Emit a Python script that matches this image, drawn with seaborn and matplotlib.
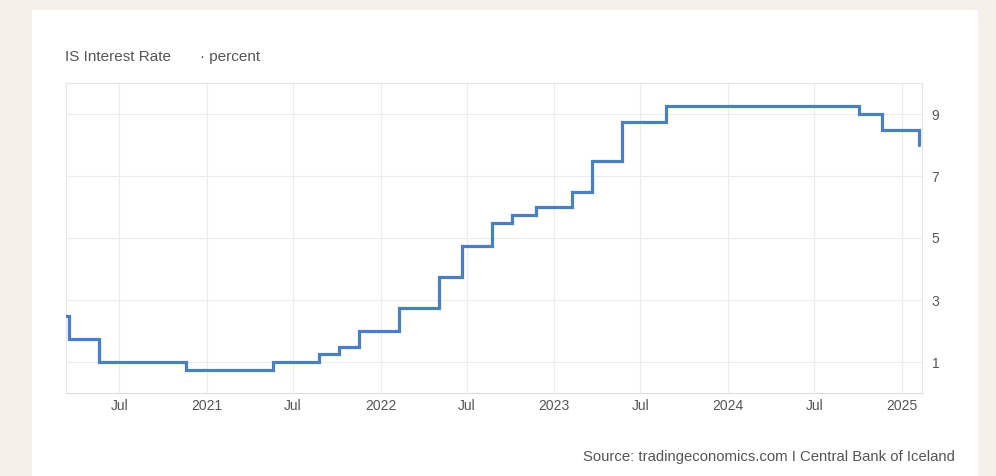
import matplotlib
matplotlib.use("Agg")
import matplotlib.pyplot as plt
from matplotlib.patches import Rectangle
import pandas as pd
import seaborn as sns

# Central Bank of Iceland policy rate decisions (percent)
change_dates = [
    "2020-03-11", "2020-03-18", "2020-05-20", "2020-11-18", "2021-05-19",
    "2021-08-25", "2021-10-06", "2021-11-17", "2022-02-09", "2022-05-04",
    "2022-06-22", "2022-08-24", "2022-10-05", "2022-11-23", "2023-02-08",
    "2023-03-22", "2023-05-24", "2023-08-23", "2024-10-02", "2024-11-20",
    "2025-02-05",
]
rates = [
    2.50, 1.75, 1.00, 0.75, 1.00,
    1.25, 1.50, 2.00, 2.75, 3.75,
    4.75, 5.50, 5.75, 6.00, 6.50,
    7.50, 8.75, 9.25, 9.00, 8.50,
    8.00,
]

tick_dates = ["2020-07-01", "2021-01-01", "2021-07-01", "2022-01-01", "2022-07-01",
              "2023-01-01", "2023-07-01", "2024-01-01", "2024-07-01", "2025-01-01"]
tick_labels = ["Jul", "2021", "Jul", "2022", "Jul", "2023", "Jul", "2024", "Jul", "2025"]
y_ticks = [1, 3, 5, 7, 9]

df = pd.DataFrame({"date": pd.to_datetime(change_dates), "rate": rates})

sns.set_theme(style="white")
plt.rcParams["font.family"] = ["Liberation Sans", "DejaVu Sans"]

BG = "#f5f1ea"
TEXT = "#555555"
GRID = "#ececec"
LINE = "#4a7fc1"

fig = plt.figure(figsize=(9.96, 4.76), dpi=100, facecolor=BG)
fig.patches.append(Rectangle((32 / 996, 0), (978 - 32) / 996, (476 - 10) / 476,
                             transform=fig.transFigure, facecolor="white",
                             edgecolor="none", zorder=-5))
ax = fig.add_axes([66 / 996, 1 - 393 / 476, (922 - 66) / 996, (393 - 83) / 476])
ax.set_zorder(2)
ax.set_facecolor("white")

sns.lineplot(data=df, x="date", y="rate", ax=ax, color=LINE, linewidth=2.3,
             drawstyle="steps-post", solid_joinstyle="miter", zorder=3)

ax.set_xlim(pd.Timestamp("2020-03-11"), pd.Timestamp("2025-02-12"))
ax.set_ylim(0, 10)

ax.set_xticks(pd.to_datetime(tick_dates))
ax.set_xticklabels(tick_labels)
ax.set_yticks(y_ticks)
ax.set_yticklabels([str(v) for v in y_ticks])

ax.yaxis.tick_right()
ax.tick_params(axis="both", length=0, colors=TEXT, labelsize=10)
ax.tick_params(axis="x", pad=4)
ax.tick_params(axis="y", pad=7)
for lbl in ax.get_yticklabels():
    lbl.set_horizontalalignment("left")

ax.grid(True, color=GRID, linewidth=0.8)
ax.set_axisbelow(True)
for side, sp in ax.spines.items():
    sp.set_visible(True)
    sp.set_color("#e6e6e6")
    sp.set_linewidth(0.8)
ax.spines["bottom"].set_color("#dddddd")

ax.set_xlabel("")
ax.set_ylabel("")

fig.text(65 / 996, 1 - 57 / 476, "IS Interest Rate", fontsize=11, color=TEXT,
         va="center", ha="left")
fig.text(200 / 996, 1 - 57 / 476, "\u00b7 percent", fontsize=11, color=TEXT,
         va="center", ha="left")
fig.text(955 / 996, 1 - 457 / 476,
         "Source: tradingeconomics.com I Central Bank of Iceland",
         fontsize=10.7, color=TEXT, va="center", ha="right")

fig.savefig("out.png", dpi=100, facecolor=BG)
